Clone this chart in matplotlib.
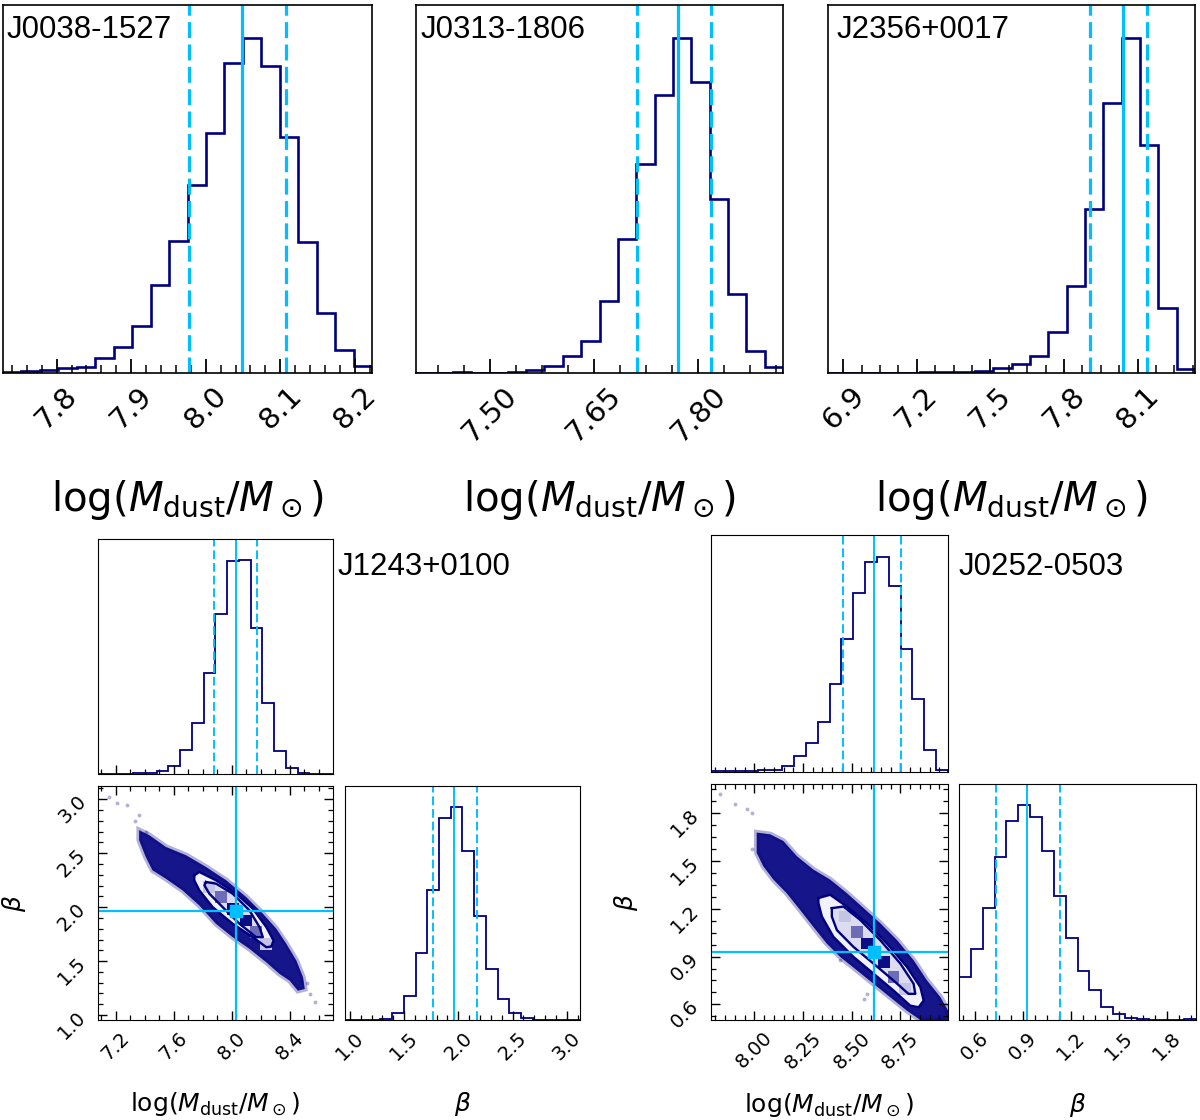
import numpy as np
import matplotlib
matplotlib.use("Agg")
import matplotlib.pyplot as plt
from matplotlib.ticker import MultipleLocator, AutoMinorLocator, FormatStrFormatter
from matplotlib.patches import Polygon, Rectangle

NAVY = "#000080"
CYAN = "#00bfff"
W, H = 1200, 1120
NAME_FONT = ["Liberation Sans", "DejaVu Sans"]
XLABEL = r"log$(M_{\rm dust}/M_\odot)$"

# ---------------- top row: log(Mdust) posteriors ----------------
top_names = ["J0038-1527", "J0313-1806", "J2356+0017"]
top_lo = [7.728, 7.393, 6.838]
top_hi = [8.223, 7.922, 8.334]
top_counts = [
    [3, 7, 10, 15, 18, 45, 77, 142, 265, 398, 565, 720, 932, 1005, 922, 710, 393, 180, 70, 20],
    [0, 0, 2, 1, 1, 4, 10, 20, 50, 95, 215, 400, 625, 833, 1002, 872, 520, 237, 67, 17],
    [0, 0, 0, 0, 1, 3, 3, 4, 5, 15, 27, 52, 122, 260, 492, 808, 1002, 682, 195, 12],
]
top_q16 = [7.977, 7.711, 7.905]
top_q50 = [8.049, 7.770, 8.039]
top_q84 = [8.107, 7.818, 8.137]
top_major = [0.1, 0.15, 0.3]
top_fmt = ["%.1f", "%.2f", "%.1f"]

# ---------------- J1243+0100 corner ----------------
j1243_mlo, j1243_mhi = 7.078, 8.699
j1243_blo, j1243_bhi = 0.954, 3.123
j1243_m_counts = [0, 0, 0, 2, 4, 10, 25, 72, 154, 304, 479, 637, 640, 436, 212, 70, 17, 4, 0, 0]
j1243_b_counts = [0, 0, 1, 4, 20, 73, 202, 392, 608, 640, 508, 313, 152, 62, 20, 5, 1, 0, 0, 0]
j1243_m_q = [7.876, 8.031, 8.175]
j1243_b_q = [1.77, 1.96, 2.17]
j1243_cloud_x = [7.362, 7.431, 7.546, 7.685, 7.823, 7.962, 8.100, 8.215, 8.308, 8.377, 8.446, 8.492, 8.504,
                 8.457, 8.400, 8.331, 8.239, 8.123, 8.007, 7.892, 7.777, 7.661, 7.546, 7.454, 7.408, 7.362]
j1243_cloud_y = [2.713, 2.667, 2.558, 2.481, 2.372, 2.249, 2.093, 1.939, 1.800, 1.660, 1.505, 1.350, 1.242,
                 1.226, 1.319, 1.381, 1.489, 1.614, 1.722, 1.846, 2.016, 2.156, 2.264, 2.342, 2.465, 2.620]
j1243_outer_x = [7.742, 7.777, 7.892, 8.031, 8.146, 8.239, 8.289, 8.273, 8.239, 8.146, 8.007, 7.869, 7.777, 7.742]
j1243_outer_y = [2.295, 2.326, 2.249, 2.125, 1.986, 1.815, 1.691, 1.635, 1.629, 1.722, 1.846, 2.000, 2.156, 2.249]
j1243_inner_x = [7.823, 7.892, 8.007, 8.123, 8.192, 8.215, 8.169, 8.054, 7.938, 7.846, 7.812]
j1243_inner_y = [2.233, 2.218, 2.125, 1.970, 1.815, 1.722, 1.722, 1.846, 2.000, 2.125, 2.202]
j1243_cell_x = [7.846, 7.927, 8.007, 8.100, 8.169, 8.239]
j1243_cell_y = [2.186, 2.093, 1.986, 1.877, 1.768, 1.660]
j1243_cell_lvl = [1, 2, 3, 3, 2, 1]
j1243_dot_x = [7.154, 7.212, 7.281, 7.330, 7.362, 7.408, 8.481, 8.520, 8.538, 8.573]
j1243_dot_y = [3.023, 2.961, 2.946, 2.800, 2.853, 2.698, 1.319, 1.300, 1.196, 1.118]

# ---------------- J0252-0503 corner ----------------
j0252_mlo, j0252_mhi = 7.777, 8.995
j0252_blo, j0252_bhi = 0.502, 1.983
j0252_m_counts = [3, 3, 3, 3, 5, 7, 17, 47, 87, 150, 263, 397, 537, 630, 645, 558, 368, 218, 65, 7]
j0252_b_counts = [130, 212, 337, 490, 598, 645, 610, 508, 373, 248, 148, 90, 40, 18, 7, 4, 1, 0, 0, 2]
j0252_m_q = [8.457, 8.616, 8.754]
j0252_b_q = [0.731, 0.928, 1.132]
j0252_cloud_x = [8.012, 8.081, 8.149, 8.218, 8.303, 8.389, 8.475, 8.561, 8.647, 8.733, 8.818, 8.887, 8.956, 8.995,
                 8.995, 8.853, 8.784, 8.698, 8.612, 8.527, 8.441, 8.372, 8.303, 8.235, 8.166, 8.098, 8.046, 8.012]
j0252_cloud_y = [1.678, 1.667, 1.625, 1.530, 1.446, 1.383, 1.298, 1.204, 1.109, 1.003, 0.877, 0.750, 0.645, 0.561,
                 0.502, 0.502, 0.561, 0.645, 0.730, 0.814, 0.898, 0.982, 1.087, 1.193, 1.298, 1.383, 1.467, 1.551]
j0252_outer_x = [8.329, 8.389, 8.475, 8.578, 8.681, 8.784, 8.853, 8.870, 8.844, 8.801, 8.715, 8.612, 8.509, 8.406, 8.347, 8.329]
j0252_outer_y = [1.267, 1.288, 1.214, 1.109, 0.982, 0.835, 0.708, 0.624, 0.582, 0.592, 0.687, 0.793, 0.898, 1.024, 1.151, 1.235]
j0252_inner_x = [8.398, 8.458, 8.544, 8.647, 8.750, 8.818, 8.827, 8.792, 8.715, 8.612, 8.509, 8.424, 8.398]
j0252_inner_y = [1.204, 1.214, 1.130, 1.003, 0.856, 0.730, 0.666, 0.666, 0.750, 0.856, 0.961, 1.066, 1.151]
j0252_cell_x = [8.466, 8.527, 8.578, 8.664, 8.715, 8.775]
j0252_cell_y = [1.151, 1.056, 0.982, 0.866, 0.771, 0.698]
j0252_cell_lvl = [1, 2, 3, 3, 2, 1]
j0252_dot_x = [7.823, 7.901, 7.961, 7.986, 7.986, 8.441, 8.561, 8.578]
j0252_dot_y = [1.920, 1.857, 1.829, 1.804, 1.572, 0.877, 0.635, 0.666]

SHADES = {1: "#c4c4e4", 2: "#6c6cb8", 3: "#0c0c84"}


def px_axes(fig, x0, y0, x1, y1):
    # axes box given in pixels measured from the top-left corner
    return fig.add_axes([x0 / W, 1 - y1 / H, (x1 - x0) / W, (y1 - y0) / H])


def draw_hist(ax, counts, lo, hi, q, lw_hist, lw_line, dash):
    edges = np.linspace(lo, hi, len(counts) + 1)
    ax.stairs(counts, edges, color=NAVY, lw=lw_hist)
    ax.set_xlim(lo, hi)
    ax.set_ylim(0, 1.1 * max(counts))
    ax.axvline(q[1], color=CYAN, lw=lw_line)
    ax.axvline(q[0], color=CYAN, lw=lw_line, ls=(0, dash))
    ax.axvline(q[2], color=CYAN, lw=lw_line, ls=(0, dash))
    ax.set_yticks([])


def style_x(ax, major, fmt, size, big, labels=True):
    ax.xaxis.set_major_locator(MultipleLocator(major))
    ax.xaxis.set_minor_locator(AutoMinorLocator())
    ax.xaxis.set_major_formatter(FormatStrFormatter(fmt))
    if big:
        ax.tick_params(axis="x", which="major", length=10, width=1.3)
        ax.tick_params(axis="x", which="minor", length=5.5, width=1.1)
    else:
        ax.tick_params(axis="x", which="major", length=6.5, width=1.0)
        ax.tick_params(axis="x", which="minor", length=3.5, width=0.9)
    ax.tick_params(axis="x", which="both", direction="in", labelsize=size, pad=6,
                   labelrotation=45, labelbottom=labels)


def draw_2d(ax, xlo, xhi, ylo, yhi, cloud, outer, inner, cells, dots, mx, my):
    ax.scatter(dots[0], dots[1], s=8, color=NAVY, alpha=0.3, lw=0)
    cpts = np.column_stack(cloud)
    ax.add_patch(Polygon(cpts, closed=True, facecolor=NAVY, edgecolor=NAVY, alpha=0.3, lw=4))
    ax.add_patch(Polygon(cpts, closed=True, facecolor=NAVY, edgecolor="none", alpha=0.88))
    ax.add_patch(Polygon(np.column_stack(outer), closed=True, facecolor="#f2f2fa", edgecolor="none"))
    ax.add_patch(Polygon(np.column_stack(inner), closed=True, facecolor="#dcdcf0", edgecolor="none"))
    dx = (xhi - xlo) / 20
    dy = (yhi - ylo) / 20
    for cx, cy, lv in zip(cells[0], cells[1], cells[2]):
        ax.add_patch(Rectangle((cx - dx / 2, cy - dy / 2), dx, dy, facecolor=SHADES[lv], lw=0))
    for px, py in (outer, inner):
        ax.plot(list(px) + [px[0]], list(py) + [py[0]], color=NAVY, lw=1.7)
    ax.axvline(mx, color=CYAN, lw=1.6)
    ax.axhline(my, color=CYAN, lw=1.6)
    ax.plot(mx, my, "s", color=CYAN, ms=8)
    ax.set_xlim(xlo, xhi)
    ax.set_ylim(ylo, yhi)


fig = plt.figure(figsize=(W / 100, H / 100), dpi=100)

# top row
top_boxes = [(3, 5, 372, 373), (416, 5, 783, 373), (828, 5, 1195, 373)]
name_x = [0.010, 0.013, 0.022]
for i in range(3):
    ax = px_axes(fig, *top_boxes[i])
    draw_hist(ax, top_counts[i], top_lo[i], top_hi[i],
              [top_q16[i], top_q50[i], top_q84[i]], 1.9, 2.3, (5, 2))
    style_x(ax, top_major[i], top_fmt[i], 21, True)
    ax.set_xlabel(XLABEL, fontsize=29)
    ax.xaxis.set_label_coords(0.5, -0.285)
    ax.text(name_x[i], 0.972, top_names[i], transform=ax.transAxes, ha="left", va="top",
            fontsize=22.5, family=NAME_FONT)
    for s in ax.spines.values():
        s.set_linewidth(1.2)


def corner(cols, rows, name, name_pos, mlo, mhi, blo, bhi, mc, bc, mq, bq,
           cloud, outer, inner, cells, dots, mmaj, bmaj, mfmt, bfmt):
    ax_top = px_axes(fig, cols[0], rows[0], cols[1], rows[1])
    ax_2d = px_axes(fig, cols[0], rows[2], cols[1], rows[3])
    ax_b = px_axes(fig, cols[2], rows[2], cols[3], rows[3])
    draw_hist(ax_top, mc, mlo, mhi, mq, 1.3, 1.4, (4.5, 2))
    style_x(ax_top, mmaj, mfmt, 14, False, labels=False)
    draw_hist(ax_b, bc, blo, bhi, bq, 1.3, 1.4, (4.5, 2))
    style_x(ax_b, bmaj, bfmt, 14, False)
    ax_b.set_xlabel(r"$\beta$", fontsize=18)
    ax_b.xaxis.set_label_coords(0.5, -0.3)
    draw_2d(ax_2d, mlo, mhi, blo, bhi, cloud, outer, inner, cells, dots, mq[1], bq[1])
    style_x(ax_2d, mmaj, mfmt, 14, False)
    ax_2d.yaxis.set_major_locator(MultipleLocator(bmaj))
    ax_2d.yaxis.set_minor_locator(AutoMinorLocator())
    ax_2d.yaxis.set_major_formatter(FormatStrFormatter(bfmt))
    ax_2d.tick_params(axis="y", which="major", length=6.5, width=1.0)
    ax_2d.tick_params(axis="y", which="minor", length=3.5, width=0.9)
    ax_2d.tick_params(axis="both", which="both", direction="in", top=True, right=True)
    ax_2d.tick_params(axis="y", labelsize=14, labelrotation=45, pad=6)
    ax_2d.set_xlabel(XLABEL, fontsize=18)
    ax_2d.set_ylabel(r"$\beta$", fontsize=18)
    ax_2d.xaxis.set_label_coords(0.5, -0.3)
    ax_2d.yaxis.set_label_coords(-0.3, 0.5)
    ax_top.text(name_pos[0], name_pos[1], name, transform=ax_top.transAxes, ha="left", va="top",
                fontsize=22.5, family=NAME_FONT)


corner((98, 333, 345, 580), (539, 774, 786, 1020), "J1243+0100", (1.02, 0.945),
       j1243_mlo, j1243_mhi, j1243_blo, j1243_bhi, j1243_m_counts, j1243_b_counts, j1243_m_q, j1243_b_q,
       (j1243_cloud_x, j1243_cloud_y), (j1243_outer_x, j1243_outer_y), (j1243_inner_x, j1243_inner_y),
       (j1243_cell_x, j1243_cell_y, j1243_cell_lvl), (j1243_dot_x, j1243_dot_y),
       0.4, 0.5, "%.1f", "%.1f")

corner((711, 948, 959, 1196), (535, 772, 784, 1020), "J0252-0503", (1.044, 0.928),
       j0252_mlo, j0252_mhi, j0252_blo, j0252_bhi, j0252_m_counts, j0252_b_counts, j0252_m_q, j0252_b_q,
       (j0252_cloud_x, j0252_cloud_y), (j0252_outer_x, j0252_outer_y), (j0252_inner_x, j0252_inner_y),
       (j0252_cell_x, j0252_cell_y, j0252_cell_lvl), (j0252_dot_x, j0252_dot_y),
       0.25, 0.3, "%.2f", "%.1f")

fig.savefig("out.png", dpi=100)
